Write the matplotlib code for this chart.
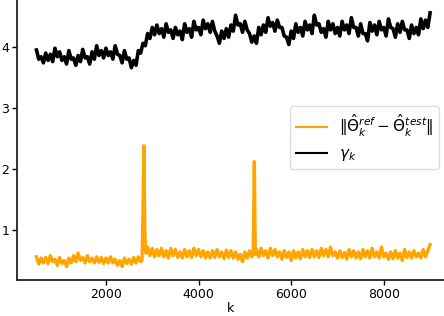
import numpy as np
import matplotlib
matplotlib.use('Agg')
from matplotlib import pyplot as plt

# gamma_k, read every 50 steps from k=500 to k=9000
k_gamma = np.arange(500, 9001, 50)
gamma = [3.95, 3.80, 3.84, 3.74, 3.90, 3.78, 3.88, 3.76, 3.98, 3.84,
         3.92, 3.78, 3.84, 3.72, 3.94, 3.80, 3.82, 3.70, 3.86, 3.76,
         3.96, 3.82, 3.84, 3.72, 3.92, 3.80, 4.02, 3.86, 3.94, 3.82,
         3.98, 3.86, 3.92, 3.80, 4.02, 3.88, 3.86, 3.74, 3.94, 3.80,
         3.82, 3.66, 3.78, 3.70, 3.94, 3.90, 4.06, 4.02, 4.22, 4.14,
         4.32, 4.20, 4.36, 4.22, 4.30, 4.16, 4.38, 4.24, 4.28, 4.14,
         4.32, 4.20, 4.26, 4.12, 4.38, 4.24, 4.30, 4.16, 4.42, 4.28,
         4.32, 4.20, 4.44, 4.30, 4.38, 4.24, 4.42, 4.26, 4.18, 4.06,
         4.26, 4.14, 4.30, 4.16, 4.36, 4.26, 4.52, 4.36, 4.38, 4.24,
         4.42, 4.28, 4.22, 4.08, 4.18, 4.06, 4.32, 4.20, 4.36, 4.24,
         4.48, 4.34, 4.40, 4.26, 4.44, 4.32, 4.32, 4.18, 4.16, 4.04,
         4.26, 4.14, 4.38, 4.24, 4.32, 4.18, 4.42, 4.28, 4.36, 4.22,
         4.52, 4.36, 4.38, 4.24, 4.30, 4.16, 4.42, 4.28, 4.38, 4.22,
         4.32, 4.18, 4.42, 4.28, 4.36, 4.22, 4.48, 4.32, 4.32, 4.18,
         4.38, 4.22, 4.22, 4.10, 4.40, 4.26, 4.36, 4.20, 4.42, 4.28,
         4.32, 4.18, 4.46, 4.32, 4.30, 4.16, 4.38, 4.24, 4.42, 4.28,
         4.28, 4.14, 4.36, 4.22, 4.32, 4.20, 4.46, 4.30, 4.44, 4.32,
         4.56]

# ||theta_ref - theta_test||: every 50 steps, plus the two spikes
k_err = np.concatenate([np.arange(500, 2751, 50),
                        [2780, 2800, 2820, 2840, 2860],
                        np.arange(2900, 5151, 50),
                        [5180, 5205, 5225],
                        np.arange(5250, 9001, 50)])
err = [0.56, 0.44, 0.54, 0.46, 0.55, 0.45, 0.58, 0.48, 0.52, 0.42,
       0.55, 0.45, 0.50, 0.40, 0.54, 0.46, 0.58, 0.48, 0.62, 0.50,
       0.55, 0.46, 0.58, 0.48, 0.54, 0.46, 0.56, 0.47, 0.55, 0.45,
       0.54, 0.46, 0.56, 0.46, 0.52, 0.42, 0.50, 0.40, 0.54, 0.45,
       0.52, 0.44, 0.55, 0.46, 0.56, 0.48,
       0.50, 1.25, 2.38, 1.00, 0.62,
       0.72, 0.58, 0.70, 0.56, 0.68, 0.58, 0.70, 0.56, 0.66, 0.54,
       0.70, 0.58, 0.68, 0.55, 0.64, 0.54, 0.68, 0.56, 0.66, 0.55,
       0.70, 0.58, 0.68, 0.56, 0.66, 0.54, 0.64, 0.54, 0.66, 0.55,
       0.68, 0.56, 0.64, 0.53, 0.67, 0.55, 0.66, 0.54, 0.64, 0.52,
       0.60, 0.48, 0.64, 0.54, 0.66, 0.56,
       0.60, 2.12, 0.60,
       0.68, 0.56, 0.70, 0.58, 0.66, 0.54, 0.70, 0.58, 0.68, 0.56,
       0.64, 0.52, 0.66, 0.55, 0.64, 0.50, 0.66, 0.54, 0.64, 0.53,
       0.68, 0.56, 0.66, 0.55, 0.68, 0.56, 0.66, 0.55, 0.70, 0.58,
       0.68, 0.56, 0.72, 0.58, 0.64, 0.54, 0.66, 0.55, 0.63, 0.52,
       0.68, 0.56, 0.66, 0.54, 0.64, 0.53, 0.68, 0.56, 0.66, 0.54,
       0.70, 0.56, 0.64, 0.54, 0.72, 0.56, 0.62, 0.52, 0.64, 0.53,
       0.66, 0.54, 0.62, 0.50, 0.68, 0.55, 0.64, 0.54, 0.66, 0.56,
       0.62, 0.54, 0.68, 0.56, 0.66, 0.76]

xticks = [2000, 4000, 6000, 8000]
yticks = [1, 2, 3, 4]

W, H = 444, 316
fig = plt.figure(figsize=(W / 100, H / 100), dpi=100)
ax = fig.add_axes([17 / W, (H - 280) / H, (W - 17) / W, 280 / H])

ax.plot(k_err, err, color='orange', lw=2.4,
        label=r'$\|\hat{\Theta}_k^{ref} - \hat{\Theta}_k^{test}\|$')
ax.plot(k_gamma, gamma, color='black', lw=2.6, label=r'$\gamma_k$')

ax.set_xlim(80, 9300)
ax.set_ylim(0.18, 4.77)
ax.set_xticks(xticks)
ax.set_yticks(yticks)
ax.tick_params(labelsize=9, width=1.0, length=3.5, pad=2)
ax.set_xlabel('k', fontsize=9, labelpad=1)

for s in ['top', 'right']:
    ax.spines[s].set_visible(False)
for s in ['left', 'bottom']:
    ax.spines[s].set_linewidth(1.3)
    ax.spines[s].set_color('#222222')

leg = ax.legend(loc='upper left', bbox_to_anchor=(290 / W, 1 - 106 / H),
                bbox_transform=fig.transFigure, fontsize=11, handlelength=2.0,
                borderaxespad=0, framealpha=1, edgecolor='#dddddd')
for line in leg.get_lines():
    line.set_linewidth(1.5)

fig.savefig('out.png', dpi=100)
